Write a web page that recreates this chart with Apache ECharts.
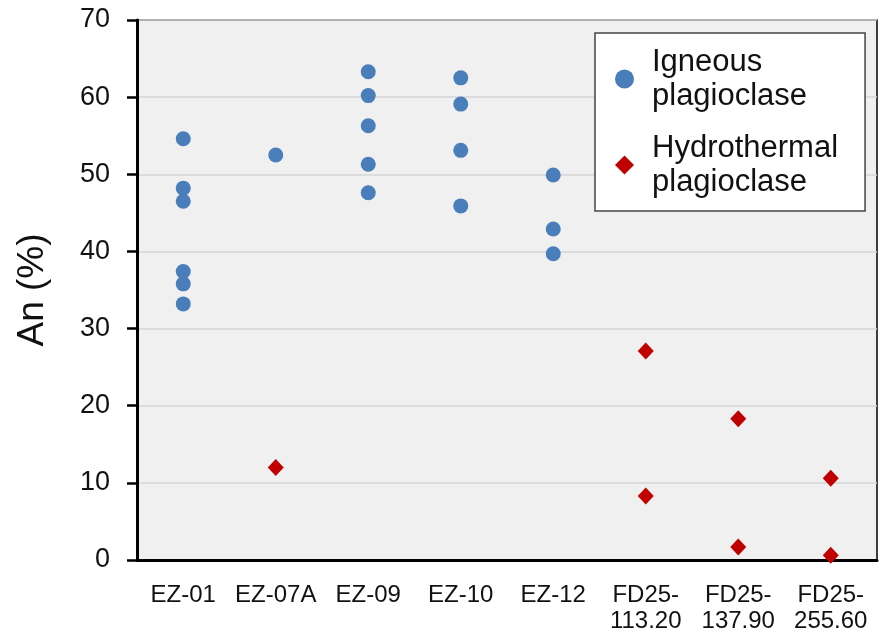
<!DOCTYPE html>
<html><head><meta charset="utf-8">
<script src="https://cdn.jsdelivr.net/npm/echarts@6/dist/echarts.min.js"></script>
<style>html,body{margin:0;padding:0;background:#fff;}#c{width:879px;height:631px;}</style>
</head><body><div id="c"></div>
<script>
const categories = ['EZ-01','EZ-07A','EZ-09','EZ-10','EZ-12','FD25-\n113.20','FD25-\n137.90','FD25-\n255.60'];
const yTicks = [0,10,20,30,40,50,60,70];
const igneousCat = ['EZ-01','EZ-01','EZ-01','EZ-01','EZ-01','EZ-01','EZ-07A','EZ-09','EZ-09','EZ-09','EZ-09','EZ-09','EZ-10','EZ-10','EZ-10','EZ-10','EZ-12','EZ-12','EZ-12'];
const igneousVal = [54.6,48.2,46.5,37.4,35.8,33.2,52.5,63.3,60.2,56.3,51.3,47.6,62.5,59.1,53.1,45.9,49.9,42.9,39.7];
const hydroCat = ['EZ-07A','FD25-\n113.20','FD25-\n113.20','FD25-\n137.90','FD25-\n137.90','FD25-\n255.60','FD25-\n255.60'];
const hydroVal = [12.0,27.1,8.3,18.3,1.7,10.6,0.6];

const chart = echarts.init(document.getElementById('c'));
const font = 'Liberation Sans, Arial, sans-serif';
chart.setOption({
  animation:false,
  backgroundColor:'#ffffff',
  grid:{left:137,right:2,top:20,bottom:71,show:true,backgroundColor:'#f0f0f0',borderColor:'#000',borderWidth:1.5,outerBoundsMode:'none',containLabel:false},
  legend:{
    orient:'vertical', left:595, top:33,
    backgroundColor:'#ffffff', borderColor:'#444', borderWidth:1.5,
    padding:[12,27,12,20], itemGap:18, itemWidth:19, itemHeight:19,
    textStyle:{fontFamily:font,fontSize:31,color:'#111',lineHeight:34,padding:[0,0,0,13]},
    data:[{name:'Igneous\nplagioclase',icon:'circle'},{name:'Hydrothermal\nplagioclase',icon:'diamond'}]
  },
  xAxis:{
    type:'category', data:categories, boundaryGap:true,
    axisLine:{lineStyle:{color:'#000',width:3}},
    axisTick:{alignWithLabel:true,length:11,lineStyle:{color:'#000',width:2.5}},
    axisLabel:{fontFamily:font,fontSize:24,color:'#111',margin:22,lineHeight:26,interval:0},
    splitLine:{show:false}
  },
  yAxis:{
    type:'value', min:0, max:70, interval:10,
    name:'An (%)', nameLocation:'middle', nameGap:86, nameRotate:90,
    nameTextStyle:{fontFamily:font,fontSize:37,color:'#111'},
    axisLine:{show:true,lineStyle:{color:'#000',width:3}},
    axisTick:{show:true,inside:false,length:10,lineStyle:{color:'#000',width:2.5}},
    axisLabel:{fontFamily:font,fontSize:27,color:'#111',margin:27,formatter:v=>yTicks.includes(v)?String(v):''},
    splitLine:{lineStyle:{color:'#d6d6d6',width:1.5}}
  },
  series:[
    {name:'Igneous\nplagioclase',type:'scatter',symbol:'circle',symbolSize:15,
     itemStyle:{color:'#4a7ebb',opacity:1},
     data:igneousCat.map((c,i)=>[c,igneousVal[i]])},
    {name:'Hydrothermal\nplagioclase',type:'scatter',symbol:'diamond',symbolSize:[16,17],
     itemStyle:{color:'#c00000',opacity:1},
     data:hydroCat.map((c,i)=>[c,hydroVal[i]])}
  ]
});
</script></body></html>
